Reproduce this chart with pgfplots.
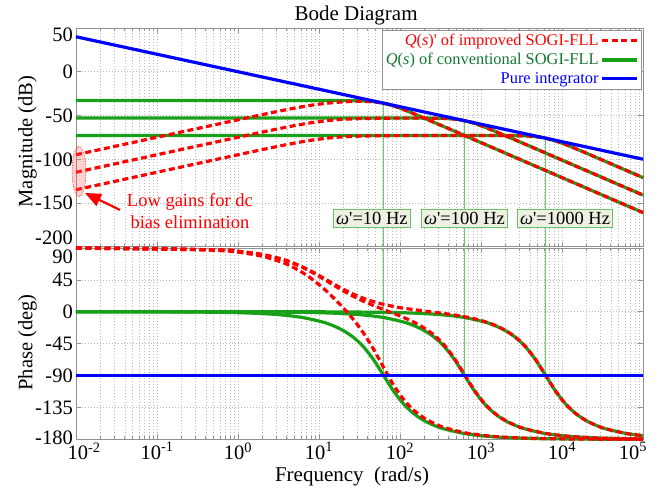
\documentclass[border=0pt]{standalone}
\usepackage{fontspec}
\setmainfont{Liberation Serif}
\usepackage{pgfplots}
\pgfplotsset{compat=1.18}
\usetikzlibrary{arrows.meta}
\definecolor{mygreen}{RGB}{25,160,25}
\definecolor{txtgreen}{RGB}{20,120,50}
\definecolor{vgreen}{RGB}{105,205,105}
\definecolor{boxfill}{RGB}{238,241,226}
\definecolor{boxdraw}{RGB}{100,195,100}
\definecolor{axgray}{RGB}{145,145,145}
\definecolor{gridgray}{RGB}{185,185,185}
\newcommand{\yl}[2]{\smash{\raisebox{#1}{#2}}}
\tikzset{
  gline/.style={mygreen, line width=3.2pt},
  rline/.style={red, line width=3.2pt, dash pattern=on 6pt off 3.5pt},
  bline/.style={blue, line width=3.2pt},
  vline/.style={vgreen, line width=1.3pt},
}
\pgfplotsset{every axis/.append style={
    xmode=log, scale only axis, width=567pt,
    xmin=1e-2, xmax=1e5, clip=false,
    xtick={1e-2,1e-1,1,10,100,1000,10000,100000},
    grid=both,
    major grid style={gridgray, line width=0.6pt, dash pattern=on 1pt off 2pt},
    minor grid style={gridgray, line width=0.5pt, dash pattern=on 1pt off 2pt},
    axis line style={axgray, line width=0.8pt},
    tick style={axgray, line width=0.6pt},
    tick align=inside,
    major tick length=5pt, minor tick length=3pt,
    tick label style={font=\fontsize{20.5}{22}\selectfont, black},
    yticklabel style={inner sep=0pt, anchor=east, xshift=-3pt},
    xticklabel style={inner sep=0pt, anchor=north, yshift=-3pt},
}}
\begin{document}
\begin{tikzpicture}
\useasboundingbox (0,0) rectangle (668pt,487pt);
% ---------------- Magnitude ----------------
\begin{axis}[name=mag, at={(76pt,240.3pt)}, anchor=south west,
  height=218.7pt, ymin=-200, ymax=50,
  ytick={-200,-150,-100,-50,0,50},
  yticklabels={\yl{1.7pt}{-200},\yl{-7pt}{-150},\yl{-7pt}{-100},\yl{-7pt}{-50},\yl{-7pt}{0},\yl{-14pt}{50}},
  xticklabels={},
  ylabel={Magnitude (dB)},
  every axis y label/.style={at={(-0.0855,0.481)}, rotate=90, anchor=center, font=\fontsize{20.5}{24}\selectfont},
  title={Bode Diagram},
  every axis title/.style={at={(0.494,1.0594)}, anchor=center, font=\fontsize{21}{24}\selectfont},
  legend style={at={(1,1)}, anchor=north east, xshift=-2pt, yshift=-2pt,
    draw=axgray, fill=white, font=\fontsize{16.4}{18}\selectfont,
    inner xsep=2pt, inner ysep=2pt, row sep=2.2pt},
  legend plot pos=right, legend cell align=right,
  legend image code/.code={\draw[#1] (0pt,0pt) -- (35pt,0pt);},
]
\addlegendimage{red, line width=3.2pt, dash pattern=on 6pt off 3.5pt}
\addlegendentry{\textcolor{red}{\textit{Q}(\textit{s})\textquotesingle\ of improved SOGI-FLL}}
\addlegendimage{mygreen, line width=3.2pt}
\addlegendentry{\textcolor{txtgreen}{\textit{Q}(\textit{s}) of conventional SOGI-FLL}}
\addlegendimage{blue, line width=3.2pt}
\addlegendentry{\textcolor{blue}{Pure integrator}}

\addplot[vline, forget plot] coordinates {(62.832,-35.96) (62.832,-200)};
\addplot[vline, forget plot] coordinates {(628.32,-55.96) (628.32,-200)};
\addplot[vline, forget plot] coordinates {(6283.2,-75.96) (6283.2,-200)};

\addplot[gline, smooth, forget plot] coordinates {(0.01,-32.95) (11.173,-32.96) (19.869,-33.00) (26.496,-33.09) (35.333,-33.37) (47.117,-34.15) (62.832,-35.96) (83.788,-39.15) (111.73,-43.37) (149.00,-48.09) (198.69,-53.00) (264.96,-57.97) (353.33,-62.96) (628.32,-72.95) (100000,-161.03)};
\addplot[gline, smooth, forget plot] coordinates {(0.01,-52.95) (111.73,-52.96) (198.69,-53.00) (264.96,-53.09) (353.33,-53.37) (471.17,-54.15) (628.32,-55.96) (837.88,-59.15) (1117.3,-63.37) (1490.0,-68.09) (1986.9,-73.00) (2649.6,-77.97) (3533.3,-82.96) (6283.2,-92.95) (100000,-141.03)};
\addplot[gline, smooth, forget plot] coordinates {(0.01,-72.95) (1117.3,-72.96) (1986.9,-73.00) (2649.6,-73.09) (3533.3,-73.37) (4711.7,-74.15) (6283.2,-75.96) (8378.8,-79.15) (11173,-83.37) (14900,-88.09) (19869,-93.00) (26496,-97.97) (35333,-102.96) (62832,-112.95) (100000,-121.03)};

\addplot[rline, smooth, forget plot] coordinates {(0.01,-94.89) (0.1,-74.89) (1,-54.92) (2,-48.98) (3.1623,-45.16) (5,-41.56) (7.0711,-39.11) (10,-37.04) (15,-35.26) (19.869,-34.45) (26.496,-33.96) (35.333,-33.88) (47.117,-34.44) (62.832,-36.13) (83.788,-39.24) (111.73,-43.42) (149.00,-48.12) (198.69,-53.01) (264.96,-57.98) (353.33,-62.96) (628.32,-72.95) (100000,-161.03)};
\addplot[rline, smooth, forget plot] coordinates {(0.01,-114.89) (0.1,-94.89) (1,-74.92) (2,-68.98) (3.1623,-65.16) (5,-61.56) (7.0711,-59.11) (10,-57.04) (15,-55.24) (20,-54.39) (30,-53.65) (50,-53.22) (100,-53.02) (198.69,-53.01) (264.96,-53.10) (353.33,-53.37) (471.17,-54.15) (628.32,-55.97) (837.88,-59.15) (1117.3,-63.37) (1490.0,-68.09) (1986.9,-73.00) (2649.6,-77.97) (3533.3,-82.96) (6283.2,-92.95) (100000,-141.03)};
\addplot[rline, smooth, forget plot] coordinates {(0.01,-134.89) (0.1,-114.89) (1,-94.92) (2,-88.98) (3.1623,-85.16) (5,-81.56) (7.0711,-79.11) (10,-77.04) (15,-75.24) (20,-74.39) (30,-73.65) (50,-73.22) (100,-73.02) (200,-72.97) (1117.3,-72.96) (1986.9,-73.00) (2649.6,-73.09) (3533.3,-73.37) (4711.7,-74.15) (6283.2,-75.96) (8378.8,-79.15) (11173,-83.37) (14900,-88.09) (19869,-93.00) (26496,-97.97) (35333,-102.96) (62832,-112.95) (100000,-121.03)};

\addplot[bline, forget plot] coordinates {(0.01,40) (100000,-100)};

\draw[red, densely dotted, line width=0.6pt, fill=red!60!white, fill opacity=0.3] (axis cs:0.0109,-114) ellipse [x radius=7pt, y radius=25pt];
\draw[red, line width=2.2pt, -{Triangle[length=16pt,width=13pt]}] (axis cs:0.0349,-158) -- (axis cs:0.0129,-138.6);
\node[red, align=center, font=\fontsize{18.5}{22}\selectfont] at (axis cs:0.255,-159) {Low gains for dc\\bias elimination};

\node[draw=boxdraw, fill=boxfill, line width=0.8pt, inner xsep=2.5pt, inner ysep=3pt, font=\fontsize{18.5}{20}\selectfont] at (axis cs:45,-167.8) {\textit{ω}\textquotesingle=10 Hz};
\node[draw=boxdraw, fill=boxfill, line width=0.8pt, inner xsep=2.5pt, inner ysep=3pt, font=\fontsize{18.5}{20}\selectfont] at (axis cs:625,-167.8) {\textit{ω}\textquotesingle=100 Hz};
\node[draw=boxdraw, fill=boxfill, line width=0.8pt, inner xsep=2.5pt, inner ysep=3pt, font=\fontsize{18.5}{20}\selectfont] at (axis cs:10900,-167.8) {\textit{ω}\textquotesingle=1000 Hz};
\end{axis}
% ---------------- Phase ----------------
\begin{axis}[at={(76pt,47.7pt)}, anchor=south west,
  height=191.3pt, ymin=-180, ymax=90,
  ytick={-180,-135,-90,-45,0,45,90},
  yticklabels={\yl{-4.7pt}{-180},\yl{-7pt}{-135},\yl{-7pt}{-90},\yl{-7pt}{-45},\yl{-7pt}{0},\yl{-7pt}{45},\yl{-15.7pt}{90}},
  xticklabels={\hspace*{16pt}10\textsuperscript{-2},10\textsuperscript{-1},10\textsuperscript{0},10\textsuperscript{1},10\textsuperscript{2},10\textsuperscript{3},10\textsuperscript{4},10\textsuperscript{5}\hspace*{20pt}},
  ylabel={Phase (deg)},
  every axis y label/.style={at={(-0.0855,0.506)}, rotate=90, anchor=center, font=\fontsize{20.5}{24}\selectfont},
  xlabel={Frequency~~(rad/s)},
  every axis x label/.style={at={(0.4868,-0.2216)}, anchor=base, font=\fontsize{21}{24}\selectfont},
]
\addplot[vline, forget plot] coordinates {(62.832,90) (62.832,-90)};
\addplot[vline, forget plot] coordinates {(628.32,90) (628.32,-90)};
\addplot[vline, forget plot] coordinates {(6283.2,90) (6283.2,-90)};

\addplot[gline, smooth, forget plot] coordinates {(0.01,-0.01) (0.062832,-0.08) (0.19869,-0.26) (0.62832,-0.81) (1.1173,-1.44) (1.9869,-2.56) (3.5333,-4.56) (6.2832,-8.13) (11.173,-14.56) (14.900,-19.56) (19.869,-26.42) (26.496,-35.96) (35.333,-49.31) (47.117,-67.57) (62.832,-90) (83.788,-112.43) (111.73,-130.69) (149.00,-144.04) (198.69,-153.58) (264.96,-160.44) (353.33,-165.44) (628.32,-171.87) (1117.3,-175.44) (1986.9,-177.44) (3533.3,-178.56) (6283.2,-179.19) (19869,-179.74) (62832,-179.92) (100000,-179.95)};
\addplot[gline, smooth, forget plot] coordinates {(0.01,0) (0.62832,-0.08) (1.9869,-0.26) (6.2832,-0.81) (11.173,-1.44) (19.869,-2.56) (35.333,-4.56) (62.832,-8.13) (111.73,-14.56) (149.00,-19.56) (198.69,-26.42) (264.96,-35.96) (353.33,-49.31) (471.17,-67.57) (628.32,-90) (837.88,-112.43) (1117.3,-130.69) (1490.0,-144.04) (1986.9,-153.58) (2649.6,-160.44) (3533.3,-165.44) (6283.2,-171.87) (11173,-175.44) (19869,-177.44) (35333,-178.56) (62832,-179.19) (100000,-179.49)};
\addplot[gline, smooth, forget plot] coordinates {(0.01,0) (6.2832,-0.08) (19.869,-0.26) (62.832,-0.81) (111.73,-1.44) (198.69,-2.56) (353.33,-4.56) (628.32,-8.13) (1117.3,-14.56) (1490.0,-19.56) (1986.9,-26.42) (2649.6,-35.96) (3533.3,-49.31) (4711.7,-67.57) (6283.2,-90) (8378.8,-112.43) (11173,-130.69) (14900,-144.04) (19869,-153.58) (26496,-160.44) (35333,-165.44) (62832,-171.87) (100000,-174.90)};

\addplot[rline, smooth, forget plot] coordinates {(0.01,89.94) (0.062832,89.63) (0.19869,88.83) (0.62832,86.31) (1,84.14) (1.9869,78.41) (3.5333,69.66) (4.7117,63.26) (6.2832,55.18) (8.3788,45.30) (11.173,33.65) (14.900,20.43) (19.869,5.75) (26.496,-10.70) (35.333,-29.83) (47.117,-52.71) (62.832,-78.75) (83.788,-103.95) (111.73,-124.31) (149.00,-139.25) (198.69,-149.98) (264.96,-157.74) (353.33,-163.41) (628.32,-170.73) (1117.3,-174.80) (1986.9,-177.08) (3533.3,-178.36) (6283.2,-179.08) (19869,-179.70) (62832,-179.91) (100000,-179.94)};
\addplot[rline, smooth, forget plot] coordinates {(0.01,89.95) (0.62832,87.04) (1,85.30) (1.9869,80.71) (3.5333,73.76) (4.7117,68.74) (6.2832,62.50) (8.3788,55.09) (11.173,46.77) (14.900,38.07) (19.869,29.61) (26.496,21.84) (35.333,14.92) (47.117,8.77) (62.832,3.12) (83.788,-2.38) (111.73,-8.18) (149.00,-14.77) (198.69,-22.82) (264.96,-33.26) (353.33,-47.28) (471.17,-66.05) (628.32,-88.86) (837.88,-111.58) (1117.3,-130.05) (1490.0,-143.56) (1986.9,-153.22) (2649.6,-160.17) (3533.3,-165.24) (6283.2,-171.76) (11173,-175.38) (19869,-177.40) (35333,-178.54) (62832,-179.18) (100000,-179.48)};
\addplot[rline, smooth, forget plot] coordinates {(0.01,89.95) (0.62832,87.11) (1,85.41) (1.9869,80.94) (3.5333,74.17) (4.7117,69.29) (6.2832,63.23) (8.3788,56.06) (11.173,48.07) (14.900,39.80) (19.869,31.91) (26.496,24.92) (35.333,19.02) (47.117,14.25) (62.832,10.44) (83.788,7.40) (111.73,4.94) (198.69,1.04) (264.96,-0.72) (353.33,-2.53) (471.17,-4.57) (628.32,-6.99) (837.88,-10.02) (1117.3,-13.92) (1490.0,-19.08) (1986.9,-26.06) (2649.6,-35.69) (3533.3,-49.11) (4711.7,-67.42) (6283.2,-89.89) (8378.8,-112.34) (11173,-130.63) (14900,-143.99) (19869,-153.54) (26496,-160.43) (35333,-165.43) (62832,-171.86) (100000,-174.89)};

\addplot[bline, forget plot] coordinates {(0.01,-90) (100000,-90)};
\end{axis}
\end{tikzpicture}
\end{document}
